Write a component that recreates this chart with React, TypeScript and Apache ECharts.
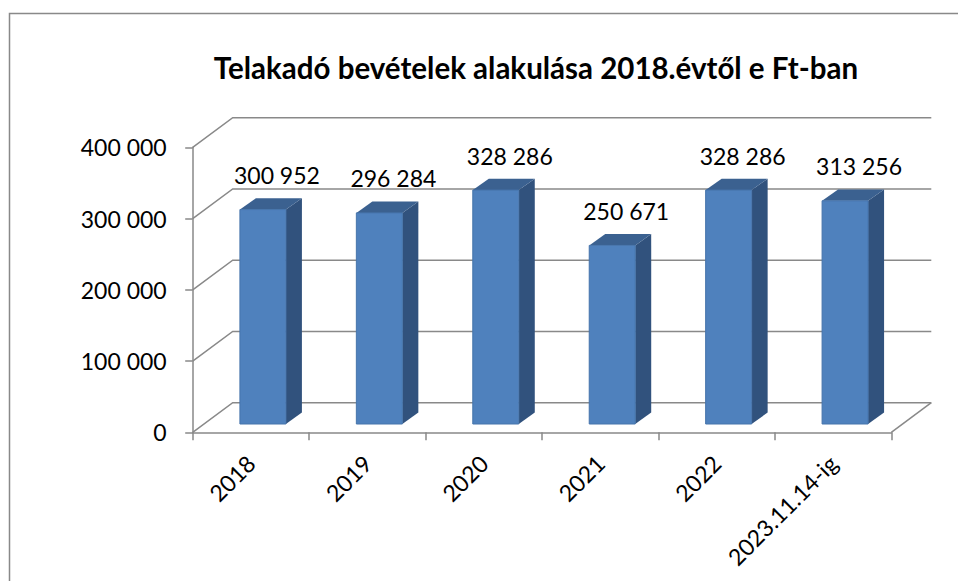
import React, { useEffect, useRef } from 'react';
import * as echarts from 'echarts';

const chartTitle = 'Telakadó bevételek alakulása 2018.évtől e Ft-ban';
const categories = ['2018', '2019', '2020', '2021', '2022', '2023.11.14-ig'];
const values = [300952, 296284, 328286, 250671, 328286, 313256];
const yTicks = [0, 100000, 200000, 300000, 400000];

const fmt = (v: number) => String(v).replace(/\B(?=(\d{3})+(?!\d))/g, ' ');

const WALL = [40, -29.6];
const FRONT_OFF = [12, -8.3];
const BAR_DEPTH = [16, -11.4];
const BAR_RATIO = 0.395;
const GREY = '#898989';
const FRONT = '#4f81bd';
const SIDE = '#31527d';
const TOP = '#3b6190';
const FONT = 'Lato, "Noto Sans", sans-serif';

export default function App() {
  const ref = useRef<HTMLDivElement>(null);
  useEffect(() => {
    if (!ref.current) return;
    const chart = echarts.init(ref.current, null, { renderer: 'svg' });
    const option: any = {
      animation: false,
      backgroundColor: '#ffffff',
      grid: { left: 192.7, top: 147.3, width: 698.6, height: 285, containLabel: false },
      graphic: [
        {
          type: 'rect',
          shape: { x: 9.5, y: 13.5, width: 1000, height: 1000 },
          style: { fill: 'none', stroke: GREY, lineWidth: 1.5 },
          silent: true,
          z: -10,
        },
        {
          type: 'text',
          x: 536,
          y: 67,
          style: {
            text: chartTitle,
            font: `bold 29.5px ${FONT}`,
            fill: '#000',
            textAlign: 'center',
            textVerticalAlign: 'middle',
          },
        },
      ],
      xAxis: {
        type: 'category',
        data: categories,
        boundaryGap: true,
        axisLine: { show: true, lineStyle: { color: GREY, width: 1.5 } },
        axisTick: { show: true, interval: 0, length: 8, lineStyle: { color: GREY, width: 1.5 } },
        axisLabel: { interval: 0, rotate: 45, margin: 27, color: '#000', fontFamily: FONT, fontSize: 23 },
        splitLine: { show: false },
      },
      yAxis: {
        type: 'value',
        min: 0,
        max: 400000,
        interval: 100000,
        axisLine: { show: true, lineStyle: { color: GREY, width: 1.5 } },
        axisTick: { show: true, length: 7.5, lineStyle: { color: GREY, width: 1.5 } },
        axisLabel: { margin: 26, color: '#000', fontFamily: FONT, fontSize: 23, formatter: (v: number) => fmt(v) },
        splitLine: { show: false },
      },
      series: [
        {
          type: 'custom',
          clip: false,
          silent: true,
          data: yTicks.map((v) => [0, v]),
          renderItem: (params: any, api: any) => {
            const v = api.value(1);
            const p = api.coord([0, v]);
            const band = api.size([1, 0])[0];
            const x0 = p[0] - band / 2;
            const x1 = x0 + band * categories.length;
            const children: any[] = [
              {
                type: 'polyline',
                shape: {
                  points: [
                    [x0, p[1]],
                    [x0 + WALL[0], p[1] + WALL[1]],
                    [x1 + WALL[0], p[1] + WALL[1]],
                  ],
                },
                style: { stroke: GREY, lineWidth: 1.5, fill: 'none' },
              },
            ];
            if (v === 0) {
              children.push({
                type: 'line',
                shape: { x1: x1, y1: p[1], x2: x1 + WALL[0], y2: p[1] + WALL[1] },
                style: { stroke: GREY, lineWidth: 1.5 },
              });
            }
            return { type: 'group', children };
          },
        },
        {
          type: 'custom',
          clip: false,
          data: values.map((v, i) => [i, v]),
          renderItem: (params: any, api: any) => {
            const i = api.value(0);
            const v = api.value(1);
            const top = api.coord([i, v]);
            const base = api.coord([i, 0]);
            const band = api.size([1, 0])[0];
            const w = band * BAR_RATIO;
            const cx = top[0] + FRONT_OFF[0];
            const x0 = cx - w / 2;
            const x1 = cx + w / 2;
            const yT = top[1] + FRONT_OFF[1];
            const yB = base[1] + FRONT_OFF[1];
            const [dx, dy] = BAR_DEPTH;
            return {
              type: 'group',
              children: [
                {
                  type: 'polygon',
                  shape: { points: [[x1, yT], [x1 + dx, yT + dy], [x1 + dx, yB + dy], [x1, yB]] },
                  style: { fill: SIDE },
                },
                {
                  type: 'polygon',
                  shape: { points: [[x0, yT], [x0 + dx, yT + dy], [x1 + dx, yT + dy], [x1, yT]] },
                  style: { fill: TOP },
                },
                {
                  type: 'rect',
                  shape: { x: x0, y: yT, width: w, height: yB - yT },
                  style: { fill: FRONT, stroke: '#4674ab', lineWidth: 1 },
                },
                {
                  type: 'text',
                  x: cx + 14,
                  y: yT + dy - 23,
                  style: {
                    text: fmt(v),
                    font: `23px ${FONT}`,
                    fill: '#000',
                    textAlign: 'center',
                    textVerticalAlign: 'middle',
                  },
                },
              ],
            };
          },
        },
      ],
    };
    chart.setOption(option);
    return () => chart.dispose();
  }, []);
  return (
    <div
      ref={ref}
      style={{ position: 'fixed', left: 0, top: 0, width: 958, height: 581, background: '#fff' }}
    />
  );
}
